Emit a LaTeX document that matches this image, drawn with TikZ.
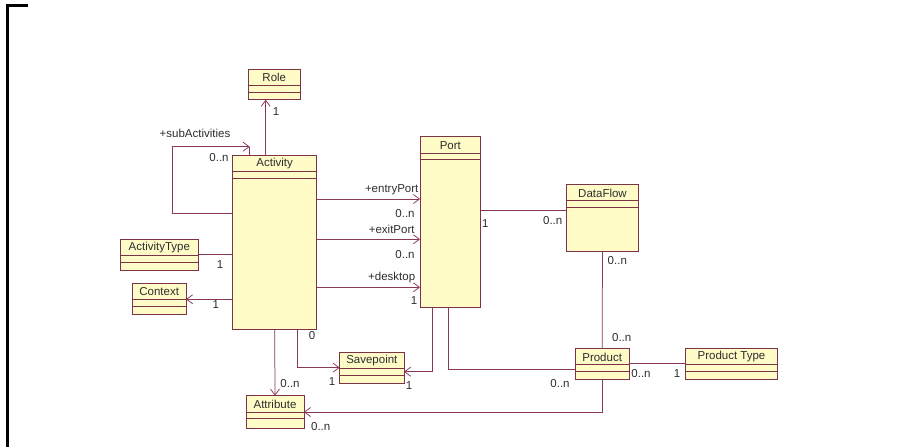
\documentclass[tikz,border=0pt]{standalone}
\usepackage{fontspec}
\setmainfont{Liberation Sans}
\usetikzlibrary{arrows.meta}
\definecolor{umlline}{RGB}{135,55,90}
\definecolor{umlborder}{RGB}{125,50,70}
\definecolor{umlfill}{RGB}{255,252,200}
\definecolor{umltext}{RGB}{45,45,45}
\tikzset{
  classbox/.style={draw=umlborder, fill=umlfill, line width=0.85pt, inner sep=0pt, outer sep=0pt, anchor=north west},
  complines/.style={draw=umlborder, line width=0.85pt},
  assoc/.style={draw=umlline, line width=0.75pt},
  navarrow/.style={assoc, -{Straight Barb[length=6pt,width=9pt]}},
  lbl/.style={font=\fontsize{11.5}{13}\selectfont, text=umltext, inner sep=0pt},
}
\newcommand\umlbox[6]{%
  \node[classbox, minimum width={#4pt-#2pt}, minimum height={#5pt-#3pt}] (#1) at (#2,#3) {};
  \draw[complines] ([yshift=-16.5pt]#1.north west) -- ([yshift=-16.5pt]#1.north east);
  \draw[complines] ([yshift=-23pt]#1.north west) -- ([yshift=-23pt]#1.north east);
  \node[lbl] (#1-title) at ([yshift=-8.6pt]#1.north) {#6};
}
\begin{document}
\begin{tikzpicture}[x=1pt,y=-1pt]
\useasboundingbox (0,0) rectangle (919,447);
% frame corner
\draw[line width=2.2pt, black] (7.5,447) -- (7.5,5.5) -- (28,5.5);

% classes
\umlbox{Role}{248.3}{69}{300.3}{99.7}{Role}
\umlbox{Activity}{232.7}{155.3}{316.7}{329.7}{Activity}
\umlbox{ActivityType}{120}{239}{198.7}{270}{ActivityType}
\umlbox{Context}{132.3}{283.3}{186}{314.3}{Context}
\umlbox{Attribute}{246}{395.7}{304}{428.3}{Attribute}
\umlbox{Savepoint}{339.7}{352}{404}{383.3}{Savepoint}
\umlbox{Port}{420}{136.7}{480.7}{307.3}{Port}
\umlbox{DataFlow}{566.7}{184.3}{638.3}{251}{DataFlow}
\umlbox{Product}{575}{348.3}{629.3}{379.3}{Product}
\umlbox{ProductType}{685.7}{348.3}{777.3}{379.3}{Product Type}

% connectors
\coordinate (loopA) at (172.3,213);
\coordinate (loopB) at (172.3,146.7);
\coordinate (loopC) at (249.7,146.7);
\draw[navarrow] (Activity.west |- loopA) -- (loopA) -- (loopB) -- (loopC);
\draw[assoc] (loopC) -- (loopC |- Activity.north);

\draw[navarrow] (265.7,0 |- Activity.north) -- (265.7,0 |- Role.south);
\draw[assoc] (ActivityType.east) -- (Activity.west |- ActivityType.east);
\draw[navarrow] (Activity.west |- 0,299.3) -- (Context.east |- 0,299.3);
\draw[navarrow] (Activity.south) -- (Attribute.north);
\draw[navarrow] (297.7,0 |- Activity.south) |- (Savepoint.west);

\draw[navarrow] (Activity.east |- 0,199) -- (Port.west |- 0,199);
\draw[navarrow] (Activity.east |- 0,239.3) -- (Port.west |- 0,239.3);
\draw[navarrow] (Activity.east |- 0,287.3) -- (Port.west |- 0,287.3);

\draw[assoc] (Port.east |- 0,210) -- (DataFlow.west |- 0,210);
\draw[assoc] (DataFlow.south) -- (Product.north);
\draw[assoc] (Product.east) -- (ProductType.west);
\draw[navarrow] (432.7,0 |- Port.south) |- (Savepoint.east |- 0,371.7);
\draw[assoc] (448.7,0 |- Port.south) |- (Product.west |- 0,369.5);
\draw[navarrow] (Product.south) |- (Attribute.east);

% labels
\node[lbl] (l1) at (276,112) {1};
\node[lbl] (l2) at (195,133) {+subActivities};
\node[lbl] (l3) at (219,157.7) {0..n};
\node[lbl] (l4) at (220,264.3) {1};
\node[lbl] (l5) at (215.7,304.3) {1};
\node[lbl] (l6) at (312,336) {0};
\node[lbl] (l7) at (290,384) {0..n};
\node[lbl] (l8) at (332,381.7) {1};
\node[lbl] (l9) at (320.7,426.7) {0..n};
\node[lbl] (l10) at (391.7,189.3) {+entryPort};
\node[lbl] (l11) at (405,213.7) {0..n};
\node[lbl] (l12) at (391.7,229.3) {+exitPort};
\node[lbl] (l13) at (405,255) {0..n};
\node[lbl] (l14) at (391.7,277.7) {+desktop};
\node[lbl] (l15) at (414,300.3) {1};
\node[lbl] (l16) at (485.3,224) {1};
\node[lbl] (l17) at (552.7,220.3) {0..n};
\node[lbl] (l18) at (617.3,260.3) {0..n};
\node[lbl] (l19) at (621.7,337.3) {0..n};
\node[lbl] (l20) at (641,373.3) {0..n};
\node[lbl] (l21) at (677,373.3) {1};
\node[lbl] (l22) at (560,383.3) {0..n};
\node[lbl] (l23) at (409,385.7) {1};
\end{tikzpicture}
\end{document}
